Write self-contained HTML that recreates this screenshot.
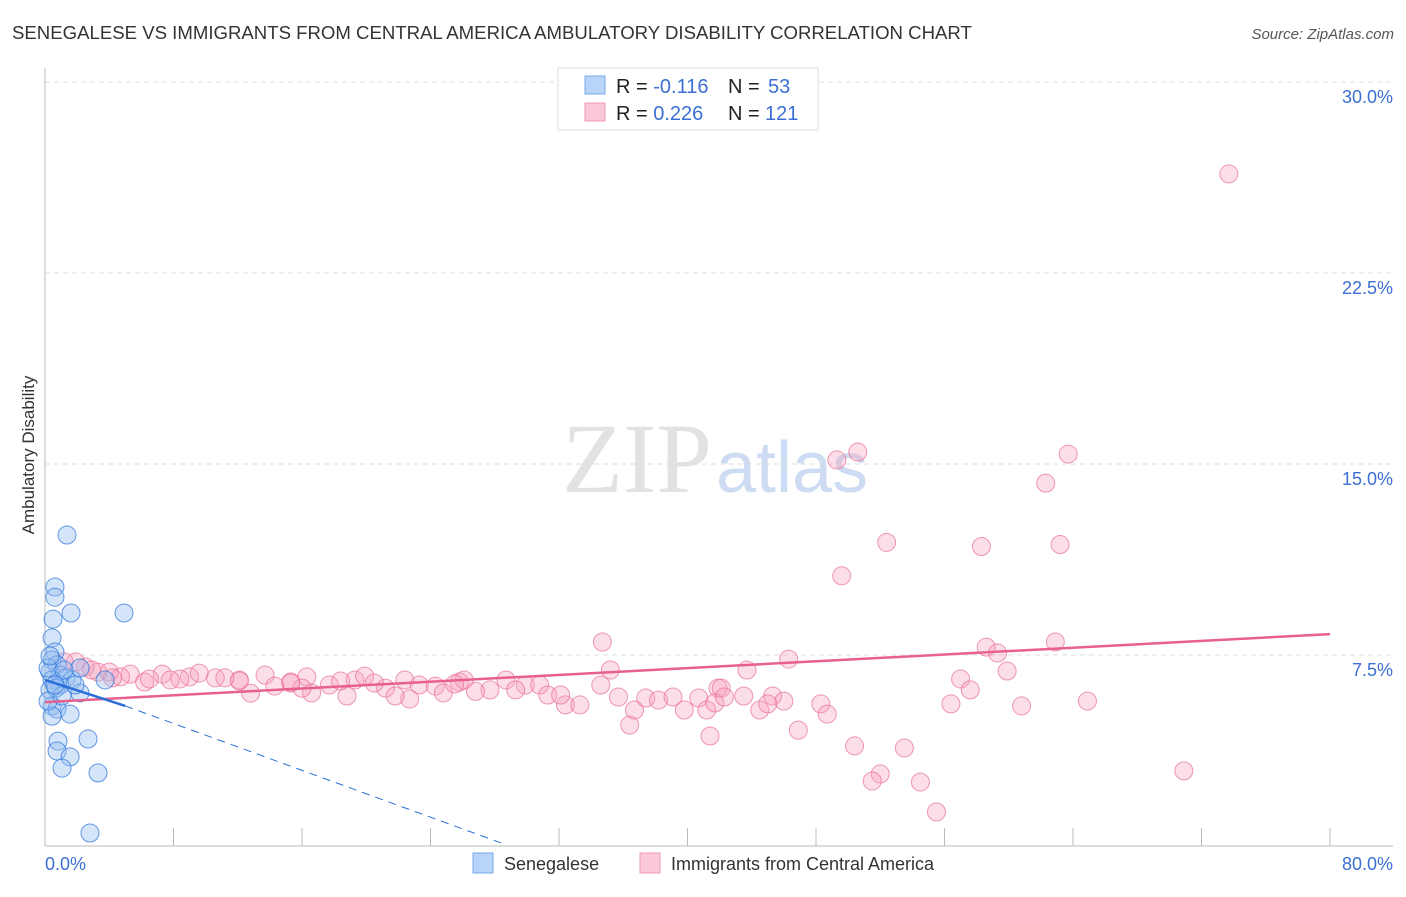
<!DOCTYPE html>
<html><head><meta charset="utf-8"><style>
body{margin:0;background:#fff;font-family:"Liberation Sans",sans-serif;}
</style></head><body>
<svg width="1406" height="892" viewBox="0 0 1406 892" xmlns="http://www.w3.org/2000/svg">
<text x="12" y="39" font-size="18.6" fill="#333">SENEGALESE VS IMMIGRANTS FROM CENTRAL AMERICA AMBULATORY DISABILITY CORRELATION CHART</text>
<text x="1394" y="39" font-size="15" fill="#555" font-style="italic" text-anchor="end">Source: ZipAtlas.com</text>
<text x="712" y="492" font-size="100" fill="#e2e2e2" text-anchor="end" font-family="Liberation Serif">ZIP</text>
<text x="716" y="492" font-size="72" fill="#cddcf2">atlas</text>
<g id="grid"></g>
<line x1="45" y1="68" x2="45" y2="846" stroke="#bbb"/>
<line x1="45" y1="846" x2="1393" y2="846" stroke="#bbb"/>
<text x="34" y="455" font-size="17" fill="#333" transform="rotate(-90 34 455)" text-anchor="middle">Ambulatory Disability</text>
<text x="45" y="870" font-size="18" fill="#3b6fd4">0.0%</text>
<text x="1393" y="870" font-size="18" fill="#3b6fd4" text-anchor="end">80.0%</text>
<g id="marks"></g>
<g>
<rect x="558" y="68" width="260" height="62" fill="#fff" stroke="#ddd"/>
<rect x="585" y="76" width="20" height="18" fill="#b8d4f8" stroke="#7aaae8"/>
<rect x="585" y="103" width="20" height="18" fill="#fbc8d8" stroke="#ef9ab6"/>
<text x="616" y="93" font-size="20" fill="#222">R = <tspan fill="#3b6fd4">-0.116</tspan><tspan x="728">N = </tspan><tspan x="768" fill="#3b6fd4">53</tspan></text>
<text x="616" y="120" font-size="20" fill="#222">R = <tspan fill="#3b6fd4"> 0.226</tspan><tspan x="728">N = </tspan><tspan x="765" fill="#3b6fd4">121</tspan></text>
</g>
<g>
<rect x="473" y="853" width="20" height="20" fill="#b8d4f8" stroke="#7aaae8"/>
<text x="504" y="870" font-size="18" fill="#333">Senegalese</text>
<rect x="640" y="853" width="20" height="20" fill="#fbc8d8" stroke="#ef9ab6"/>
<text x="671" y="870" font-size="18" fill="#333">Immigrants from Central America</text>
</g>
</svg>
<script>
const yTicks=[7.5,15,22.5,30];
const yTickLabels=["7.5%","15.0%","22.5%","30.0%"];
const xTicks=[0,8,16,24,32,40,48,56,64,72,80];
const blueX=[1.37,0.62,0.62,1.62,4.92,0.50,0.44,0.62,0.44,0.75,0.31,0.93,1.31,0.44,1.68,2.18,0.93,0.31,0.68,2.18,0.44,0.75,1.56,0.44,0.81,0.75,1.56,2.68,1.06,3.30,2.80,0.19,1.06,3.74,0.19,0.62,1.18,1.87,0.31];
const blueY=[12.21,10.17,9.77,9.15,9.15,8.91,8.17,7.62,7.30,7.11,6.83,6.71,6.60,6.52,6.52,6.99,6.32,6.13,6.20,6.01,5.50,5.38,5.18,5.10,4.12,3.73,3.50,4.20,3.06,2.87,0.51,5.69,5.89,6.52,6.99,6.32,6.91,6.32,7.46];
const pinkX=[73.7,50.6,63.7,49.3,62.3,52.4,58.3,63.2,49.6,34.7,62.9,58.6,46.3,59.3,35.2,59.9,43.7,57.0,57.6,56.4,60.8,64.9,41.9,42.1,43.5,44.5,45.3,46.0,45.0,48.3,48.7,46.9,41.4,36.4,50.4,53.5,52.0,51.5,54.5,55.5,70.9,
3.3,5.3,7.3,9.0,10.6,12.1,13.7,15.3,16.3,17.7,19.3,19.9,21.2,22.4,23.3,24.3,25.8,26.1,27.7,28.7,29.9,30.8,31.3,32.4,33.3,34.6,35.7,36.7,37.4,38.2,39.1,39.8,40.7,41.2,41.7,42.3,26.8,24.8,22.7,21.8,18.8,16.6,16.0,15.3,12.1,8.4,7.8,6.2,4.7,4.0,2.5,1.9,1.2,2.9,9.6,11.2,14.3,6.5,4.2,32.1,29.3,25.5,20.5,18.4,12.8];
const pinkY=[26.39,15.47,15.39,15.16,14.25,11.92,11.76,11.84,10.61,8.01,8.01,7.81,7.34,7.58,6.91,6.87,6.91,6.56,6.13,5.58,5.50,5.69,6.20,6.20,5.89,5.34,5.89,5.69,5.58,5.58,5.18,4.55,4.32,4.75,3.93,3.85,2.83,2.55,2.51,1.34,2.95,
6.83,6.75,6.75,6.64,6.60,6.52,6.71,6.44,6.64,6.32,6.52,6.67,6.20,6.52,6.32,6.28,6.44,6.52,6.13,6.52,6.32,6.32,5.93,5.54,5.54,6.32,5.85,5.34,5.81,5.73,5.85,5.34,5.81,5.34,5.62,5.85,6.07,6.01,5.77,5.89,5.89,6.01,6.20,6.40,6.48,6.56,6.52,6.44,6.64,6.83,7.03,7.23,7.23,6.91,6.79,6.60,6.28,6.56,6.60,5.93,6.13,6.36,6.40,6.48,6.00];
const pinkTrend=[[0,5.65],[80,8.32]];
const blueTrendSolid=[[0,6.52],[5.0,5.50]];
const blueTrendDash=[[5.0,5.50],[28.4,0.12]];
const X=v=>45+v/80*1285, Y=v=>846-v/7.5*191;
const ns="http://www.w3.org/2000/svg";
const grid=document.getElementById('grid'), marks=document.getElementById('marks');
function mk(tag,attrs,parent){const e=document.createElementNS(ns,tag);for(const k in attrs)e.setAttribute(k,attrs[k]);parent.appendChild(e);return e;}
yTicks.forEach((t,i)=>{
 const l=mk('line',{x1:45,x2:1393,y1:Y(t),y2:Y(t),stroke:'#ddd','stroke-dasharray':'5,4'},grid);
 
 
 const tx=mk('text',{x:1393,y:Y(t)+21,'font-size':18,fill:'#3b6fd4','text-anchor':'end'},grid);
 tx.textContent=yTickLabels[i];
 
 
});
xTicks.forEach(t=>{
 const l=mk('line',{x1:X(t),x2:X(t),y1:828,y2:846,stroke:'#bbb'},grid);
 
 
});
pinkX.forEach((v,i)=>{
 if(pinkY[i]===undefined) return;
 const c=mk('circle',{cx:X(v),cy:Y(pinkY[i]),r:9,fill:'rgba(245,160,190,0.35)',stroke:'rgba(232,110,150,0.7)','stroke-width':1},marks);
 
 
});
blueX.forEach((v,i)=>{
 const c=mk('circle',{cx:X(v),cy:Y(blueY[i]),r:9,fill:'rgba(150,190,240,0.4)',stroke:'rgba(50,120,220,0.75)','stroke-width':1},marks);
 
 
});
function line(p,st,w,dash,name){const l=mk('line',{x1:X(p[0][0]),y1:Y(p[0][1]),x2:X(p[1][0]),y2:Y(p[1][1]),stroke:st,'stroke-width':w},marks);if(dash)l.setAttribute('stroke-dasharray',dash);
 
 }
line(pinkTrend,'#e8608e',2.5,null,'pink-trend-line');
line(blueTrendSolid,'#2a6fd8',2.5,null,'blue-trend-line');
line(blueTrendDash,'#2a6fd8',1,'8,6','blue-trend-extension');
</script>
</body></html>
